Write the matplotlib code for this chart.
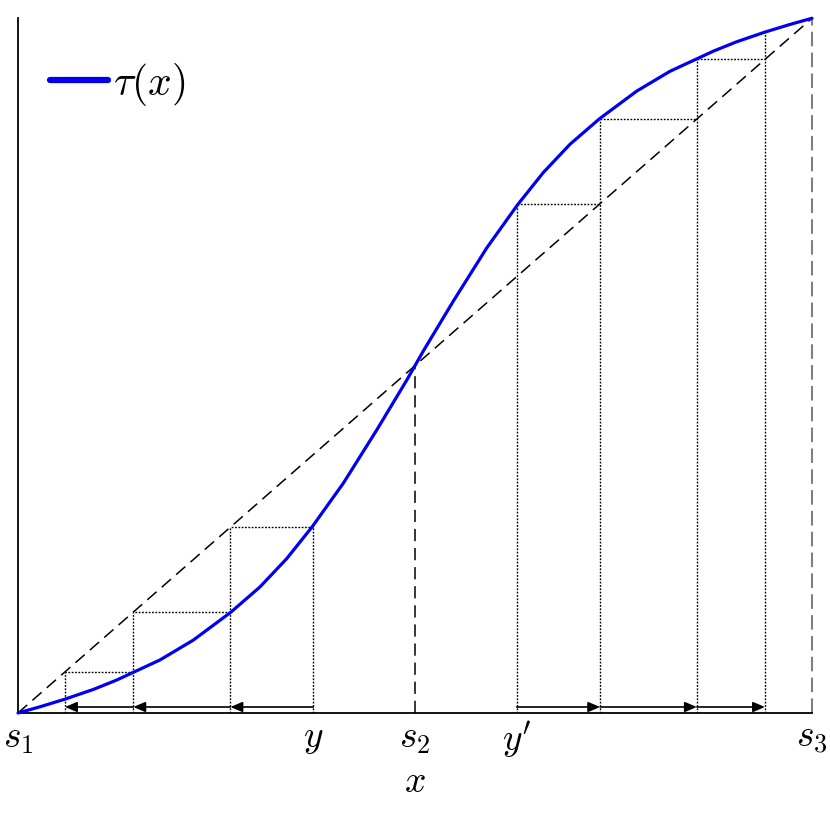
import matplotlib
matplotlib.use("Agg")
import matplotlib.pyplot as plt

plt.rcParams['mathtext.fontset'] = 'cm'
plt.rcParams['font.family'] = ['DejaVu Serif']

# curve tau(x), points (normalised s1=0, s3=1)
tau_x = [0.0, 0.028, 0.0592, 0.095, 0.1243, 0.1452, 0.1788, 0.2208, 0.2679,
         0.3048, 0.3384, 0.3707, 0.4097, 0.4518, 0.4896, 0.5,
         0.5104, 0.5482, 0.5903, 0.6293, 0.6616, 0.6952, 0.7321, 0.7792,
         0.8212, 0.8548, 0.8757, 0.905, 0.9408, 0.972, 1.0]
tau_y = [0.0, 0.009, 0.0199, 0.0339, 0.0474, 0.0585, 0.0763, 0.1049, 0.1449,
         0.1815, 0.2221, 0.2683, 0.3307, 0.4073, 0.4791, 0.5,
         0.5209, 0.5927, 0.6693, 0.7317, 0.7779, 0.8186, 0.8551, 0.8951,
         0.9237, 0.9415, 0.9526, 0.9661, 0.9801, 0.991, 1.0]

# orbits (cobweb) starting at y and y'
orbit_low = [0.3719, 0.2675, 0.1452, 0.0592, 0.0201]
orbit_high = [0.6281, 0.7332, 0.8550, 0.9408, 0.9803]

tick_pos = [0.0, 0.3719, 0.5, 0.6281, 1.0]
tick_labels = [r'$s_1$', r'$y$', r'$s_2$', r"$y'$", r'$s_3$']
s2 = 0.5

fig = plt.figure(figsize=(8.3, 8.3), dpi=100)
ax = fig.add_axes([0.0217, 0.141, 0.9566, 0.837])
ax.set_xlim(0, 1)
ax.set_ylim(0, 1)

# diagonal and s2 marker
ax.plot([0, 1], [0, 1], color='black', lw=1.1, dashes=(8, 4.5), zorder=2)
ax.plot([s2, s2], [0, s2], color='black', lw=1.1, dashes=(8, 4.5), zorder=2)
ax.plot([1, 1], [0, 1], color='#808080', lw=1.5, dashes=(7, 3), zorder=2, clip_on=False)

dot = dict(color='black', lw=1.0, dashes=(1.3, 1.1), zorder=2)
arrow_y = 0.0086
for orb in (orbit_low, orbit_high):
    n = len(orb) - 1
    for i in range(n):
        h = orb[i + 1] if i == 0 else max(orb[i], orb[i + 1])
        ax.plot([orb[i], orb[i]], [0, h], **dot)
    for i in range(n - 1):
        ax.plot([orb[i], orb[i + 1]], [orb[i + 1], orb[i + 1]], **dot)
        ax.annotate('', xy=(orb[i + 1], arrow_y), xytext=(orb[i], arrow_y),
                    arrowprops=dict(arrowstyle='-|>,head_length=0.4,head_width=0.17',
                                    color='black', lw=1.2, shrinkA=0, shrinkB=0,
                                    mutation_scale=18), zorder=3)

ax.plot(tau_x, tau_y, color='#0000ee', lw=2.3, zorder=4, clip_on=False,
        label=r'$\tau(x)$', solid_capstyle='round', solid_joinstyle='round')

leg = ax.legend(loc='center left', bbox_to_anchor=(0.040, 0.905), frameon=False,
                fontsize=30, handlelength=1.39, handletextpad=0.12,
                borderaxespad=0.0, borderpad=0.0)
for l in leg.get_lines():
    l.set_linewidth(4.5)

ax.set_xticks(tick_pos)
ax.set_xticklabels(tick_labels, fontsize=27)
ax.set_yticks([])
ax.tick_params(axis='x', length=0, pad=5)
ax.set_xlabel(r'$x$', fontsize=27, labelpad=3)

for side in ('top', 'right'):
    ax.spines[side].set_visible(False)
ax.spines['left'].set_linewidth(1.3)
ax.spines['bottom'].set_linewidth(1.3)

fig.savefig('out.png', dpi=100)
